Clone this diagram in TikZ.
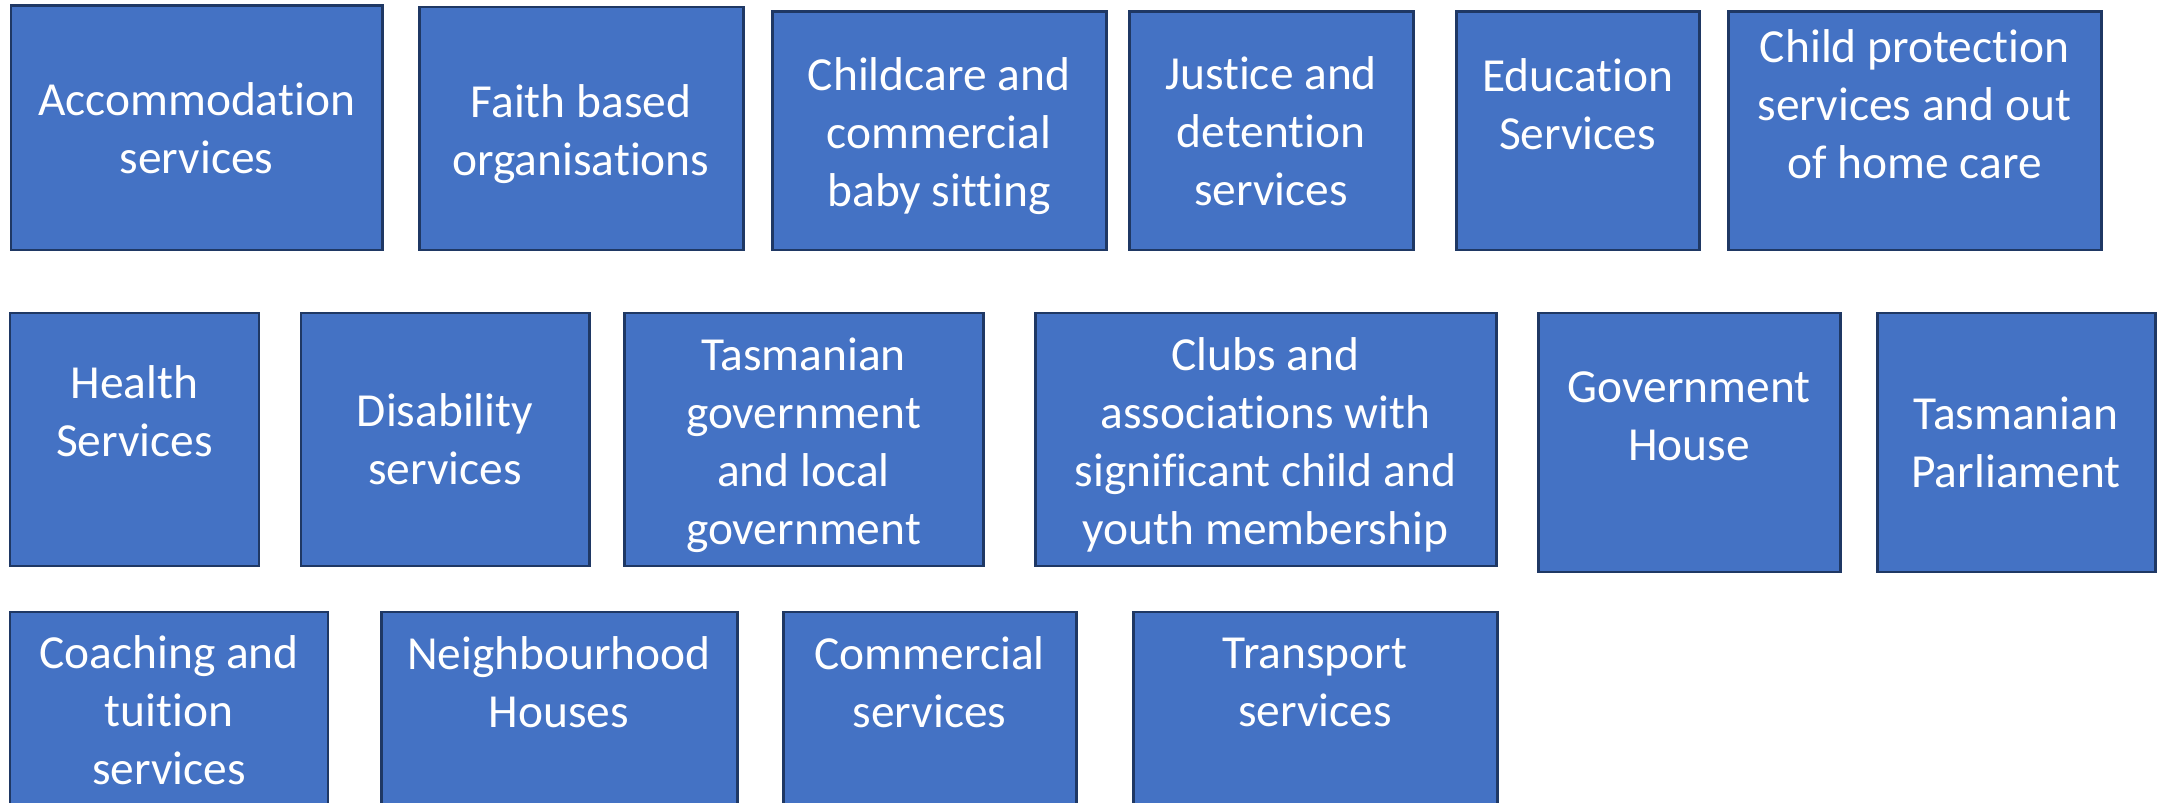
\documentclass[tikz,border=0pt]{standalone}
\usepackage{fontspec}
\setmainfont{Carlito}[Ligatures=NoCommon]
\usepackage{xcolor}
\usepackage{tikz}
\usetikzlibrary{positioning}
\definecolor{svcfill}{HTML}{4472C4}
\definecolor{svcline}{HTML}{1F3864}
\tikzset{
  svcbox/.style={
    rectangle,
    draw=svcline,
    line width=0.85pt,
    fill=svcfill,
    inner sep=0pt,
    outer sep=0pt
  },
  svctext/.style={
    align=center,
    text=white,
    inner sep=0pt,
    font=\fontsize{13.5pt}{16.5pt}\selectfont
  }
}

\begin{document}
\begin{tikzpicture}
\useasboundingbox (0,0) rectangle (21.6,-8.03);
\clip (0,0) rectangle (21.6,-8.03);
% first row
\node[svcbox, minimum width=3.71cm, minimum height=2.44cm] (acc) at (1.965,-1.28) {};
\node[svcbox, minimum width=3.24cm, minimum height=2.43cm] (faith) at (5.81,-1.285) {};
\node[svcbox, minimum width=3.34cm, minimum height=2.38cm] (childcare) at (9.39,-1.31) {};
\node[svcbox, minimum width=2.84cm, minimum height=2.38cm] (justice) at (12.71,-1.31) {};
\node[svcbox, minimum width=2.43cm, minimum height=2.38cm] (edu) at (15.775,-1.31) {};
\node[svcbox, minimum width=3.73cm, minimum height=2.38cm] (protect) at (19.145,-1.31) {};
\node[svctext] (acc-t) at (acc.center) {Accommodation\\services};
\node[svctext] (faith-t) at (5.81,-1.34) {Faith based\\organisations};
\node[svctext] (childcare-t) at (9.39,-1.365) {Childcare and\\commercial\\baby sitting};
\node[svctext] (justice-t) at (justice.center) {Justice and\\detention\\services};
\node[svctext] (edu-t) at (15.775,-1.04) {Education\\Services};
\node[svctext] (protect-t) at (19.145,-1.04) {Child protection\\services and out\\of home care};
% second row
\node[svcbox, minimum width=2.49cm, minimum height=2.53cm] (health) at (1.345,-4.395) {};
\node[svcbox, minimum width=2.88cm, minimum height=2.53cm] (disab) at (4.45,-4.395) {};
\node[svcbox, minimum width=3.59cm, minimum height=2.53cm] (tasgov) at (8.035,-4.395) {};
\node[svcbox, minimum width=4.61cm, minimum height=2.53cm] (clubs) at (12.655,-4.395) {};
\node[svcbox, minimum width=3.02cm, minimum height=2.59cm] (govhouse) at (16.89,-4.425) {};
\node[svcbox, minimum width=2.78cm, minimum height=2.59cm] (parl) at (20.16,-4.425) {};
\node[svctext] (health-t) at (1.345,-4.11) {Health\\Services};
\node[svctext] (disab-t) at (disab.center) {Disability\\services};
\node[svctext] (tasgov-t) at (8.035,-4.45) {Tasmanian\\government\\and local\\government};
\node[svctext] (clubs-t) at (12.655,-4.45) {Clubs and\\associations with\\significant child and\\youth membership};
\node[svctext] (govhouse-t) at (16.89,-4.16) {Government\\House};
\node[svctext] (parl-t) at (parl.center) {Tasmanian\\Parliament};
% third row, runs off the bottom edge
\node[svcbox, minimum width=3.18cm, minimum height=2.6cm] (coach) at (1.69,-7.42) {};
\node[svcbox, minimum width=3.56cm, minimum height=2.6cm] (neigh) at (5.59,-7.42) {};
\node[svcbox, minimum width=2.93cm, minimum height=2.6cm] (comm) at (9.295,-7.42) {};
\node[svcbox, minimum width=3.64cm, minimum height=2.6cm] (transport) at (13.15,-7.42) {};
\node[svctext] (coach-t) at (1.69,-7.10) {Coaching and\\tuition\\services};
\node[svctext] (neigh-t) at (5.59,-6.82) {Neighbourhood\\Houses};
\node[svctext] (comm-t) at (9.295,-6.82) {Commercial\\services};
\node[svctext] (transport-t) at (13.15,-6.82) {Transport\\services};
\end{tikzpicture}
\end{document}
